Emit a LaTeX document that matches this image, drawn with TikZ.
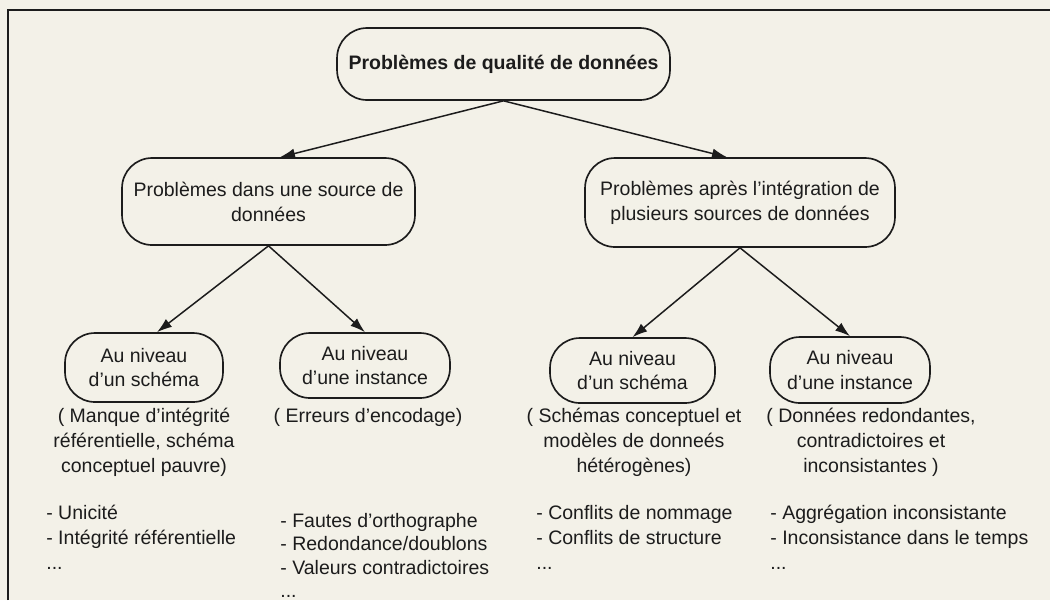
\documentclass[tikz,border=0pt]{standalone}
\usepackage{fontspec}
\setmainfont{Liberation Sans}
\usetikzlibrary{arrows.meta}
\definecolor{paper}{RGB}{243,241,232}
\definecolor{ink}{RGB}{28,28,28}
\begin{document}
\begin{tikzpicture}[x=0.02cm,y=-0.02cm,
  every node/.style={font=\fontsize{11.1pt}{14.2pt}\selectfont, text=ink},
  rbox/.style={draw=ink, line width=0.95pt, rounded corners=0.6cm, align=center, inner sep=2pt},
  txt/.style={align=center, inner sep=0pt, anchor=base},
  lst/.style={align=left, inner sep=0pt, anchor=base west},
  arr/.style={draw=ink, line width=0.85pt, -{Latex[length=0.3cm,width=0.2cm]}}
]
\useasboundingbox (0,0) rectangle (1050,600);
\fill[paper] (0,0) rectangle (1050,600);
\draw[ink, line width=1.1pt] (8,600) -- (8,10) -- (1050,10);

\node[rbox, minimum width=6.66cm, minimum height=1.44cm, font=\fontsize{11.1pt}{14.2pt}\selectfont\bfseries] (root) at (503.5,64) {Problèmes de qualité de données};
\node[rbox, minimum width=5.86cm, minimum height=1.74cm] (midL) at (268.5,201.5) {Problèmes dans une source de\\données};
\node[rbox, minimum width=6.2cm, minimum height=1.78cm] (midR) at (740,202.5) {Problèmes après l’intégration de\\plusieurs sources de données};
\node[rbox, minimum width=3.16cm, minimum height=1.38cm] (l1) at (144,367.5) {Au niveau\\d’un schéma};
\node[rbox, minimum width=3.4cm, minimum height=1.3cm] (l2) at (365,365.5) {Au niveau\\d’une instance};
\node[rbox, minimum width=3.3cm, minimum height=1.3cm] (l3) at (632.5,370.5) {Au niveau\\d’un schéma};
\node[rbox, minimum width=3.2cm, minimum height=1.32cm] (l4) at (850,370) {Au niveau\\d’une instance};

\draw[arr] (root.south) -- ([xshift=0.23cm]midL.north);
\draw[arr] (root.south) -- ([xshift=-0.26cm]midR.north);
\draw[arr] (midL.south) -- ([xshift=0.26cm]l1.north);
\draw[arr] (midL.south) -- (l2.north);
\draw[arr] (midR.south) -- (l3.north);
\draw[arr] (midR.south) -- (l4.north);

\node[txt] (d1) at (144,472) {( Manque d’intégrité\\référentielle, schéma\\conceptuel pauvre)};
\node[txt] (d2) at (368,422) {( Erreurs d’encodage)};
\node[txt] (d3) at (634,472) {( Schémas conceptuel et\\modèles de donneés\\hétérogènes)};
\node[txt] (d4) at (871,472) {( Données redondantes,\\contradictoires et\\inconsistantes )};

\node[lst] (c1) at (46,569) {- Unicité\\- Intégrité référentielle\\...};
\node[lst, font=\fontsize{11.1pt}{13.1pt}\selectfont] (c2) at (280,597) {- Fautes d’orthographe\\- Redondance/doublons\\- Valeurs contradictoires\\...};
\node[lst] (c3) at (536,569) {- Conflits de nommage\\- Conflits de structure\\...};
\node[lst] (c4) at (770,569) {- Aggrégation inconsistante\\- Inconsistance dans le temps\\...};
\end{tikzpicture}
\end{document}
